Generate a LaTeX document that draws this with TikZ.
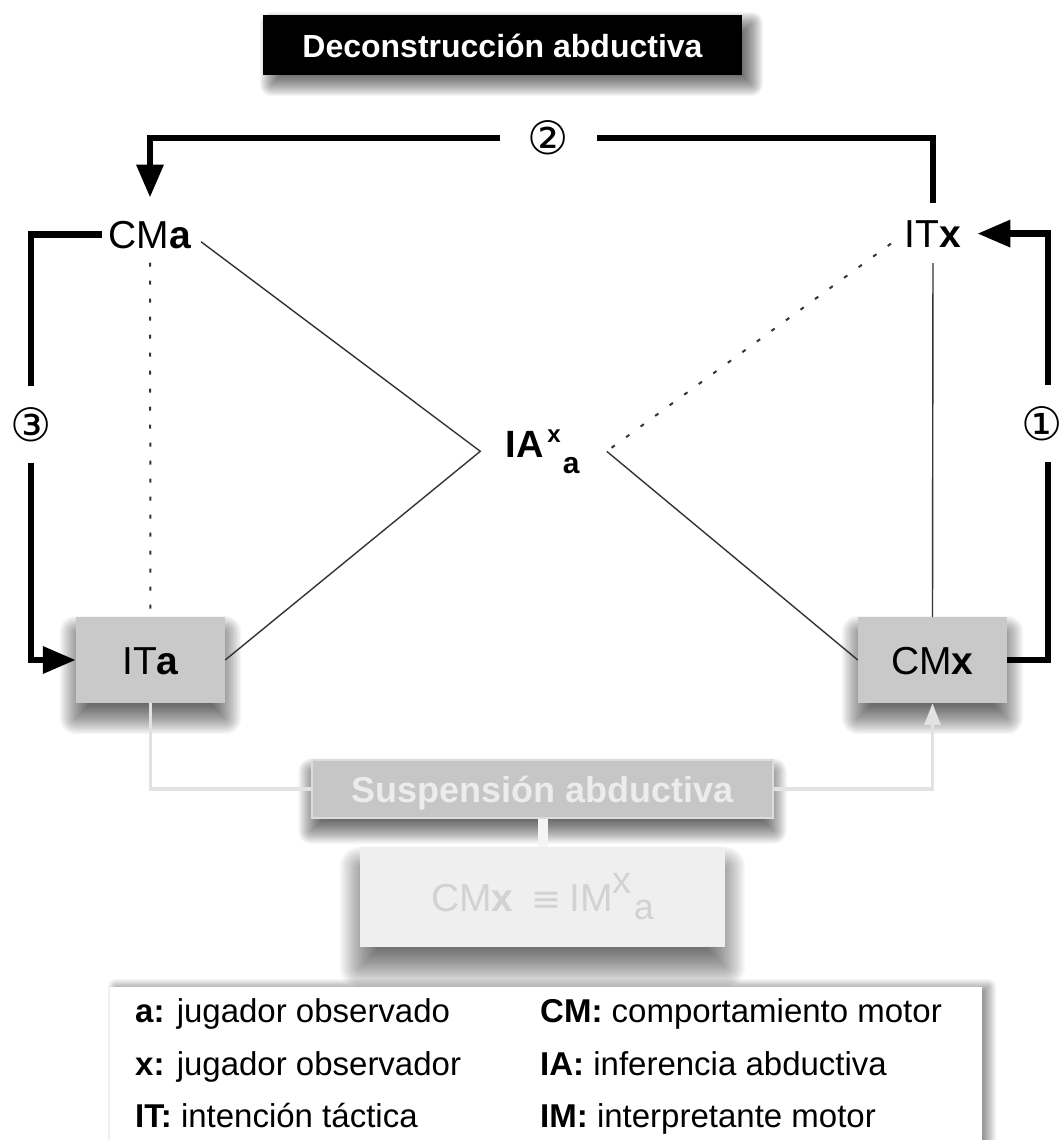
\documentclass[tikz,border=0pt]{standalone}
\usepackage{fontspec}
\setmainfont{Liberation Sans}
\newfontfamily\symfont{DejaVu Sans}
\usetikzlibrary{arrows.meta}

\definecolor{boxgray}{HTML}{C9C9C9}
\definecolor{suspfill}{HTML}{C6C6C6}
\definecolor{susptext}{HTML}{ECECEC}
\definecolor{suspedge}{HTML}{DCDCDC}
\definecolor{lowfill}{HTML}{EFEFEF}
\definecolor{lowtext}{HTML}{D2D2D2}
\definecolor{lightline}{HTML}{E2E2E2}
\definecolor{thingray}{HTML}{333333}

\pgfdeclarelayer{backlayer}
\pgfdeclarelayer{shadowlayer}
\pgfsetlayers{backlayer,shadowlayer,main}

\newcommand\setfs[1]{\fontsize{#1}{#1}\selectfont}

% soft drop shadow behind a node: node, x offset, y offset, spread, opacity per layer
\newcommand\softshadow[5]{%
  \begin{pgfonlayer}{shadowlayer}
    \foreach \k in {0,...,23}{%
      \pgfmathsetmacro\ee{#4*(1-\k/11.5)}%
      \pgfmathsetmacro\rr{max(\ee,0)+0.1}%
      \fill[black, opacity=#5, rounded corners=\rr pt]
        ([xshift={#2-\ee}, yshift={#3-\ee}]#1.south west) rectangle
        ([xshift={#2+\ee}, yshift={#3+\ee}]#1.north east);
    }%
  \end{pgfonlayer}}

\tikzset{
  lbl/.style={inner sep=0pt, font=\setfs{39}},
  circnum/.style={inner sep=0pt, font=\symfont\setfs{46}},
  bigline/.style={line width=6.5pt, black},
  bigarrow/.style={bigline, -{Triangle[length=33pt,width=26pt]}},
  thinline/.style={line width=1.4pt, thingray},
  dotline/.style={line width=2pt, thingray, dash pattern=on 4pt off 14pt},
  lightconn/.style={line width=3.5pt, lightline},
  graybox/.style={fill=boxgray, minimum width=149pt, minimum height=86pt,
    inner sep=0pt, text height=28pt, text depth=0pt, font=\setfs{39}},
}

\begin{document}
\begin{tikzpicture}[x=1pt, y=-1pt]
\useasboundingbox (0,0) rectangle (1062,1140);
\begin{pgfonlayer}{backlayer}
  \fill[white] (0,0) rectangle (1062,1140);
\end{pgfonlayer}

% title banner
\node (title) [fill=black, text=white, minimum width=479pt, minimum height=60pt,
  inner sep=0pt, text height=24pt, text depth=0pt, font=\bfseries\setfs{32}]
  at (502.5,45) {Deconstrucción abductiva};
\softshadow{title}{9}{-9}{12}{0.035}

% upper labels
\node (cma) [lbl, anchor=base] at (150,248) {CM\textbf{a}};
\node (itx) [lbl, anchor=base] at (933,247) {IT\textbf{x}};

% central inference
\node (ia) [inner sep=0pt, anchor=base, font=\bfseries\setfs{38}] at (542.5,457)
  {IA\kern4pt\raisebox{15pt}{\setfs{24}x}\kern2pt\raisebox{-16pt}{\setfs{30}a}};
\coordinate (iavl) at ([xshift=-25pt]ia.west);
\coordinate (iavr) at ([xshift=27pt]ia.east);

% lower grey boxes
\node (ita) [graybox] at (150.5,660) {IT\textbf{a}};
\node (cmx) [graybox] at (932.5,660) {CM\textbf{x}};
\softshadow{ita}{0}{-15}{16}{0.034}
\softshadow{cmx}{0}{-15}{16}{0.034}

% circled step numbers
\node (n2) [circnum, minimum width=97pt] at (548.5,138) {②};
\node (n3) [circnum, minimum height=76pt] at (31,424.5) {③};
\node (n1) [circnum, minimum height=76pt] at (1042,423.5) {①};

% suspension block
\node (susp) [fill=suspfill, draw=suspedge, line width=1.5pt,
  minimum width=461pt, minimum height=58pt, inner sep=0pt,
  text height=26pt, text depth=0pt, text=susptext, font=\bfseries\setfs{36}]
  at (542.5,789) {Suspensión abductiva};
\softshadow{susp}{0}{-12}{13}{0.034}
\node (low) [fill=lowfill, minimum width=365pt, minimum height=100pt,
  inner sep=0pt, text height=28pt, text depth=0pt, text=lowtext,
  font=\setfs{39}]
  at (542.5,897)
  {CM\textbf{x}\kern18pt{\symfont\setfs{36}≡}\kern8pt IM\raisebox{18pt}{\setfs{38}x}\kern2pt\raisebox{-8pt}{\setfs{36}a}};
\softshadow{low}{0}{-20}{20}{0.03}

% legend
\node (legend) [fill=white, minimum width=872pt, minimum height=200pt,
  inner sep=0pt] at (546,1087) {};
\softshadow{legend}{6}{0}{8}{0.025}
\begin{scope}[every node/.style={anchor=base west, inner sep=0pt, font=\setfs{33}}]
  \node (la) at (135,1022) {\textbf{a:} jugador observado};
  \node (lx) at (135,1075) {\textbf{x:} jugador observador};
  \node (lit) at (135,1127) {\textbf{IT:} intención táctica};
  \node (lcm) at (540,1022) {\textbf{CM:} comportamiento motor};
  \node (lia) at (540,1075) {\textbf{IA:} inferencia abductiva};
  \node (lim) at (540,1127) {\textbf{IM:} interpretante motor};
\end{scope}

% thick step connectors
\draw[bigline, shorten <=17pt] (itx.north) |- (n2.east);
\draw[bigarrow, shorten >=23pt] (n2.west) -| (cma.north);
\draw[bigline, shorten <=7pt] (cma.west) -| (n3.north);
\draw[bigarrow] (n3.south) |- (ita.west);
\draw[bigline] (cmx.east) -| ([xshift=6pt]n1.south);
\draw[bigarrow, shorten >=16pt] ([xshift=6pt]n1.north) |- (itx.east);

% thin relations
\draw[thinline, shorten <=12pt] (cma.east) -- (iavl) -- (ita.east);
\draw[thinline] (iavr) -- (cmx.west);
\draw[thinline, shorten <=16pt] (itx.south) -- (cmx.north);
\draw[dotline, shorten <=14pt] (cma.south) -- (ita.north);
\draw[dotline, shorten <=17pt, shorten >=6pt] (itx.west) -- (iavr);

% faint suspension links
\draw[lightconn] (ita.south) |- (susp.west);
\draw[lightconn, -{Triangle[length=22pt,width=16pt]}] (susp.east) -| (cmx.south);
\draw[line width=10pt, white!96!black] (susp.south) -- (low.north);
\end{tikzpicture}
\end{document}
